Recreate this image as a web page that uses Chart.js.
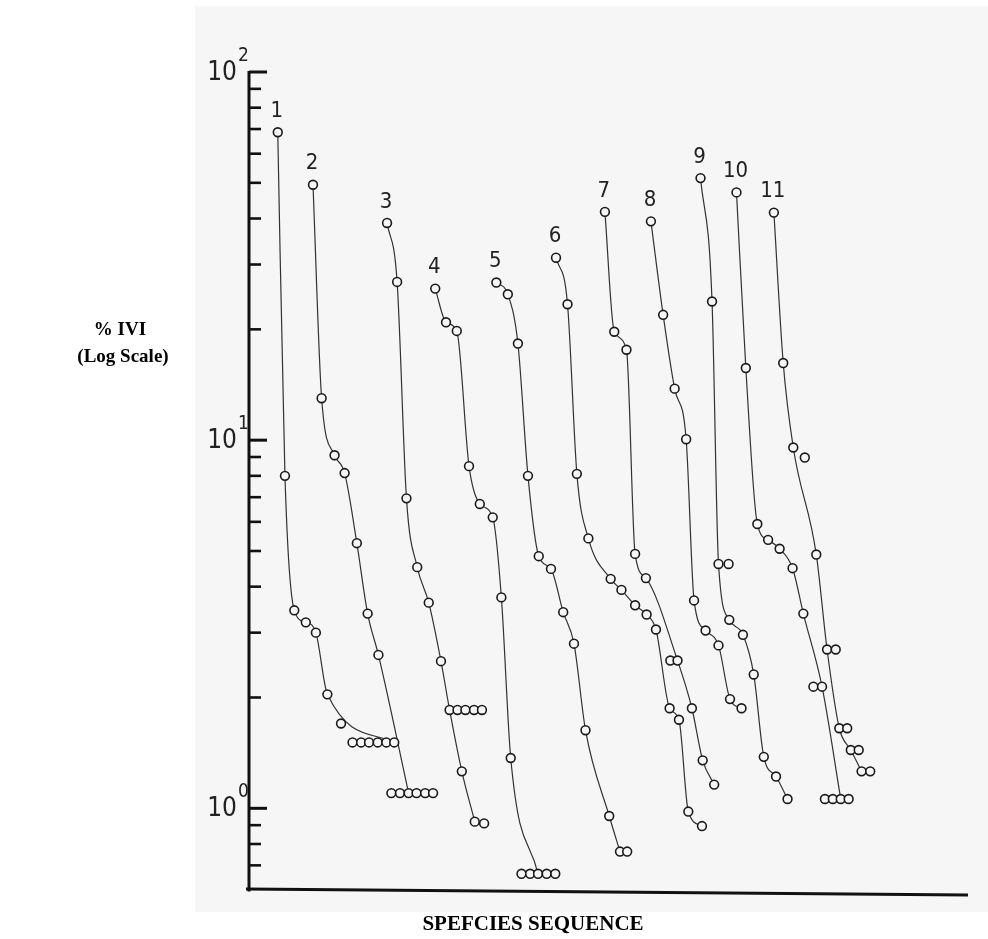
<!DOCTYPE html>
<html>
<head>
<meta charset="utf-8">
<title>% IVI dominance-diversity curves</title>
<script src="https://cdn.jsdelivr.net/npm/chart.js@4.4.1/dist/chart.umd.min.js"></script>
<style>
  html, body { margin: 0; padding: 0; background: #ffffff; }
  canvas { display: block; }
</style>
</head>
<body>
<canvas id="myChart" width="988" height="939"></canvas>
<script>
// values
// seqN = position along the species sequence (0-100), iviN = % IVI, lineN = 1 if the drawn curve passes through that point

const curveLabels = ['1', '2', '3', '4', '5', '6', '7', '8', '9', '10', '11']

const seq1 = [4.0, 5.0, 6.3, 7.9, 9.3, 10.9, 12.8, 14.4, 15.6, 16.7, 17.9, 19.1, 20.2]
const ivi1 = [68.6, 8.0, 3.45, 3.2, 3.0, 2.04, 1.70, 1.51, 1.51, 1.51, 1.51, 1.51, 1.51]
const line1 = [1, 1, 1, 1, 1, 1, 0, 0, 0, 0, 0, 0, 1]

const seq2 = [8.9, 10.1, 11.9, 13.3, 15.0, 16.5, 18.0, 19.8, 21.0, 22.2, 23.3, 24.5, 25.6]
const ivi2 = [49.4, 13.0, 9.1, 8.14, 5.25, 3.38, 2.61, 1.1, 1.1, 1.1, 1.1, 1.1, 1.1]
const line2 = [1, 1, 1, 1, 1, 1, 1, 0, 0, 1, 0, 0, 0]

const seq3 = [19.2, 20.6, 21.9, 23.4, 25.0, 26.7, 27.9, 29.0, 30.1, 31.3, 32.4, 29.6, 31.4, 32.7]
const ivi3 = [38.9, 26.9, 6.95, 4.52, 3.62, 2.51, 1.85, 1.85, 1.85, 1.85, 1.85, 1.26, 0.92, 0.91]
const line3 = [1, 1, 1, 1, 1, 1, 1, 0, 0, 0, 0, 1, 1, 0]

const seq4 = [25.9, 27.4, 28.9, 30.6, 32.1, 33.9, 35.1, 36.4, 37.9, 39.1, 40.2, 41.4, 42.6]
const ivi4 = [25.8, 20.9, 19.8, 8.5, 6.71, 6.17, 3.74, 1.37, 0.664, 0.664, 0.664, 0.664, 0.664]
const line4 = [1, 1, 1, 1, 1, 1, 1, 1, 0, 0, 1, 0, 0]

const seq5 = [34.4, 36.0, 37.4, 38.8, 40.3, 42.0, 43.7, 45.2, 46.8, 50.1, 51.6, 52.6]
const ivi5 = [26.8, 24.9, 18.3, 8.0, 4.84, 4.47, 3.41, 2.80, 1.63, 0.953, 0.763, 0.763]
const line5 = [1, 1, 1, 1, 1, 1, 1, 1, 1, 1, 1, 0]

const seq6 = [42.7, 44.3, 45.6, 47.2, 50.3, 51.8, 53.7, 55.3, 56.6, 58.5, 59.8, 61.1, 63.0]
const ivi6 = [31.3, 23.4, 8.1, 5.41, 4.2, 3.92, 3.56, 3.36, 3.06, 1.87, 1.74, 0.98, 0.895]
const line6 = [1, 1, 1, 1, 1, 1, 1, 1, 1, 1, 1, 1, 1]

const seq7 = [49.5, 50.8, 52.5, 53.7, 55.2, 58.6, 59.6, 61.6, 63.1, 64.7]
const ivi7 = [41.7, 19.7, 17.6, 4.91, 4.22, 2.52, 2.52, 1.87, 1.35, 1.16]
const line7 = [1, 1, 1, 1, 1, 0, 1, 1, 1, 1]

const seq8 = [55.9, 57.6, 59.2, 60.8, 61.9, 63.5, 65.3, 66.9, 68.5]
const ivi8 = [39.3, 21.9, 13.8, 10.06, 3.67, 3.04, 2.77, 1.98, 1.87]
const line8 = [1, 1, 1, 1, 1, 1, 1, 1, 1]

const seq9 = [62.8, 64.4, 65.3, 66.7, 66.8, 68.7, 70.2, 71.6, 73.3, 74.9]
const ivi9 = [51.5, 23.8, 4.61, 4.61, 3.25, 2.96, 2.31, 1.38, 1.22, 1.06]
const line9 = [1, 1, 1, 0, 1, 1, 1, 1, 1, 1]

const seq10 = [67.8, 69.1, 70.7, 72.2, 73.8, 75.6, 77.1, 78.5, 79.7, 80.1, 81.2, 82.3, 83.4]
const ivi10 = [47.1, 15.7, 5.92, 5.36, 5.07, 4.49, 3.38, 2.14, 2.14, 1.06, 1.06, 1.06, 1.06]
const line10 = [1, 1, 1, 1, 1, 1, 1, 0, 1, 0, 0, 1, 0]

const seq11 = [73.0, 74.3, 75.7, 77.3, 78.9, 80.4, 81.6, 82.1, 83.2, 83.7, 84.8, 85.2, 86.4]
const ivi11 = [41.5, 16.2, 9.55, 8.97, 4.89, 2.70, 2.70, 1.65, 1.65, 1.44, 1.44, 1.26, 1.26]
const line11 = [1, 1, 1, 0, 1, 1, 0, 1, 0, 1, 0, 1, 0]

// y axis ticks (log scale)
const majorTicks = [1, 10, 100]
const majorTickLabels = ['10', '10', '10']
const majorTickPowers = ['0', '1', '2']
const minorTicks = [0.7, 0.8, 0.9, 2, 3, 4, 5, 6, 7, 8, 9, 20, 30, 40, 50, 60, 70, 80, 90]

const allSeq = [seq1, seq2, seq3, seq4, seq5, seq6, seq7, seq8, seq9, seq10, seq11]
const allIvi = [ivi1, ivi2, ivi3, ivi4, ivi5, ivi6, ivi7, ivi8, ivi9, ivi10, ivi11]
const allLine = [line1, line2, line3, line4, line5, line6, line7, line8, line9, line10, line11]

const paperColor = '#f6f6f6'
const inkColor = '#1a1a1a'

// build the datasets: one line per curve (only the points the pen went through) + the circles
let datasets = []
curveLabels.forEach((label, i) => {
  let linePts = []
  let markerPts = []
  allSeq[i].forEach((x, j) => {
    markerPts.push({x: x, y: allIvi[i][j]})
    if (allLine[i][j] == 1) {
      linePts.push({x: x, y: allIvi[i][j]})
    }
  })
  datasets.push({
    label: 'curve ' + label + ' line',
    data: linePts,
    showLine: true,
    borderColor: '#333333',
    borderWidth: 1.2,
    pointRadius: 0,
    cubicInterpolationMode: 'monotone',
    fill: false,
    order: 1
  })
  datasets.push({
    label: 'curve ' + label,
    data: markerPts,
    showLine: false,
    pointRadius: 4.4,
    pointBorderWidth: 1.6,
    pointBorderColor: inkColor,
    pointBackgroundColor: paperColor,
    order: 0
  })
})

// paper background, axes, ticks, labels
const paperPlugin = {
  id: 'paper',
  beforeDraw(chart) {
    const ctx = chart.ctx
    ctx.save()
    ctx.fillStyle = '#ffffff'
    ctx.fillRect(0, 0, chart.width, chart.height)
    ctx.fillStyle = paperColor
    ctx.fillRect(195, 6, chart.width - 195, 906)
    ctx.restore()
  },
  afterDraw(chart) {
    const ctx = chart.ctx
    const xs = chart.scales.x
    const ys = chart.scales.y
    const left = xs.left
    const bottom = ys.bottom

    ctx.save()
    ctx.strokeStyle = '#111111'
    ctx.lineCap = 'butt'

    // y axis line
    ctx.lineWidth = 3
    ctx.beginPath()
    ctx.moveTo(left, ys.getPixelForValue(100) - 1)
    ctx.lineTo(left, bottom + 1.5)
    ctx.stroke()

    // x axis line (the scan is a little tilted)
    ctx.lineWidth = 3.2
    ctx.beginPath()
    ctx.moveTo(left - 3, bottom - 1)
    ctx.lineTo(xs.right, bottom + 5)
    ctx.stroke()

    // ticks point inward
    ctx.lineWidth = 2.6
    minorTicks.forEach(v => {
      let y = ys.getPixelForValue(v)
      ctx.beginPath()
      ctx.moveTo(left, y)
      ctx.lineTo(left + 12, y)
      ctx.stroke()
    })
    ctx.lineWidth = 3
    majorTicks.forEach(v => {
      let y = ys.getPixelForValue(v)
      ctx.beginPath()
      ctx.moveTo(left, y)
      ctx.lineTo(left + 18, y)
      ctx.stroke()
    })

    // tick labels 10^n
    ctx.fillStyle = '#222222'
    majorTicks.forEach((v, i) => {
      let y = ys.getPixelForValue(v)
      ctx.font = '26px "Liberation Sans Narrow", "DejaVu Sans Condensed", sans-serif'
      ctx.textAlign = 'right'
      ctx.textBaseline = 'middle'
      let xr = left - 12
      ctx.fillText(majorTickLabels[i], xr, y + 1)
      ctx.font = '19px "Liberation Sans Narrow", "DejaVu Sans Condensed", sans-serif'
      ctx.textAlign = 'left'
      ctx.fillText(majorTickPowers[i], xr + 1, y - 16)
    })

    // axis titles
    ctx.fillStyle = '#000000'
    ctx.textAlign = 'center'
    ctx.textBaseline = 'middle'
    ctx.font = 'bold 19px "Liberation Serif", "Times New Roman", serif'
    ctx.fillText('% IVI', 120, 330)
    ctx.fillText('(Log Scale)', 123, 357)
    ctx.font = 'bold 21px "Liberation Serif", "Times New Roman", serif'
    ctx.fillText('SPEFCIES SEQUENCE', 533, 925)

    // curve numbers above the first point of each curve
    ctx.fillStyle = '#222222'
    ctx.font = '22px "Liberation Sans Narrow", "DejaVu Sans Condensed", sans-serif'
    ctx.textBaseline = 'middle'
    curveLabels.forEach((label, i) => {
      let meta = chart.getDatasetMeta(i * 2 + 1)
      let pt = meta.data[0]
      ctx.fillText(label, pt.x - 1, pt.y - 21)
    })

    ctx.restore()
  }
}

new Chart('myChart', {
  type: 'scatter',
  data: {
    datasets: datasets
  },
  options: {
    responsive: false,
    animation: false,
    devicePixelRatio: 1,
    clip: false,
    layout: {
      padding: {left: 249, top: 72, right: 20, bottom: 49}
    },
    scales: {
      x: {
        type: 'linear',
        min: 0,
        max: 100,
        display: false
      },
      y: {
        type: 'logarithmic',
        min: 0.6,
        max: 100,
        display: false
      }
    },
    plugins: {
      legend: {display: false},
      title: {display: false},
      tooltip: {enabled: false}
    }
  },
  plugins: [paperPlugin]
})
</script>
</body>
</html>
